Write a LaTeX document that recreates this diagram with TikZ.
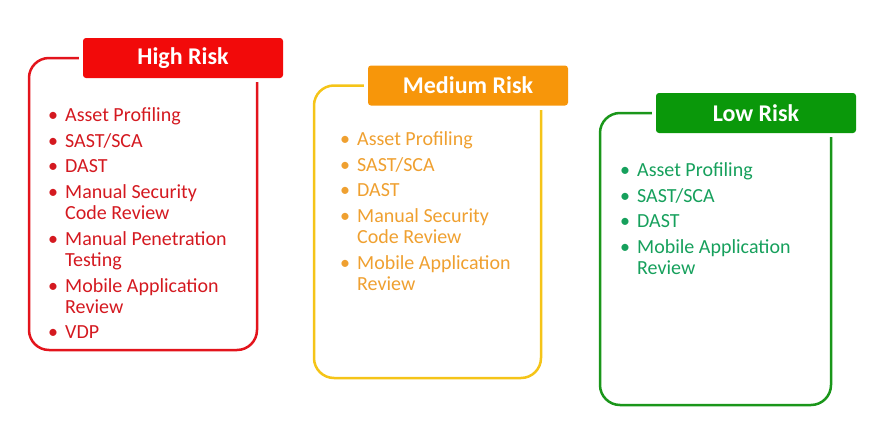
\documentclass[tikz,border=0pt]{standalone}
\usepackage{fontspec}
\setmainfont{Carlito}
\usetikzlibrary{positioning}

\definecolor{hiBanner}{HTML}{F20A0A}
\definecolor{hiFrame}{HTML}{E3141C}
\definecolor{hiText}{HTML}{D41920}
\definecolor{medBanner}{HTML}{F7960A}
\definecolor{medFrame}{HTML}{F5C418}
\definecolor{medText}{HTML}{EFA030}
\definecolor{lowBanner}{HTML}{0A980A}
\definecolor{lowFrame}{HTML}{1A961A}
\definecolor{lowText}{HTML}{16A05C}

\newcommand{\riskitem}[1]{\spaceskip=0pt\xspaceskip=0pt\hangindent=17pt\hangafter=1\noindent
  \makebox[17pt][l]{\textbullet}#1\par}

\tikzset{
  banner/.style={rounded corners=3pt, minimum width=200pt, minimum height=40pt, inner sep=0pt,
    text=white, font=\fontsize{24}{26}\selectfont\bfseries},
  frame/.style={line width=2.5pt, rounded corners=20pt},
  risklist/.style={anchor=north west, inner sep=0pt, text width=210pt, align=left,
    font=\fontsize{20}{21}\selectfont\setlength{\parskip}{4.7pt}}
}

\begin{document}
\begin{tikzpicture}[x=1pt,y=-1pt]
\useasboundingbox (0,0) rectangle (876,434);

% high risk
\node[banner, fill=hiBanner] (hiTitle) at (183,58) {High Risk};
\draw[frame, hiFrame] ([xshift=-4pt]hiTitle.west) -| (29,350) -| (257,82);
\node[risklist, text=hiText] (hiList) at (48,107.5) {%
  \riskitem{Asset Profiling}
  \riskitem{SAST/SCA}
  \riskitem{DAST}
  \riskitem{Manual Security\newline Code Review}
  \riskitem{Manual Penetration\newline Testing}
  \riskitem{Mobile Application\newline Review}
  \riskitem{VDP}};

% medium risk
\node[banner, fill=medBanner] (medTitle) at (468,85.5) {Medium Risk};
\draw[frame, medFrame] ([xshift=-4pt]medTitle.west) -| (314,378) -| (541,110);
\node[risklist, text=medText] (medList) at (340,131.5) {%
  \riskitem{Asset Profiling}
  \riskitem{SAST/SCA}
  \riskitem{DAST}
  \riskitem{Manual Security\newline Code Review}
  \riskitem{Mobile Application\newline Review}};

% low risk
\node[banner, fill=lowBanner] (lowTitle) at (756,113) {Low Risk};
\draw[frame, lowFrame] ([xshift=-4pt]lowTitle.west) -| (600,405) -| (831,137);
\node[risklist, text=lowText] (lowList) at (620,162.5) {%
  \riskitem{Asset Profiling}
  \riskitem{SAST/SCA}
  \riskitem{DAST}
  \riskitem{Mobile Application\newline Review}};
\end{tikzpicture}
\end{document}
